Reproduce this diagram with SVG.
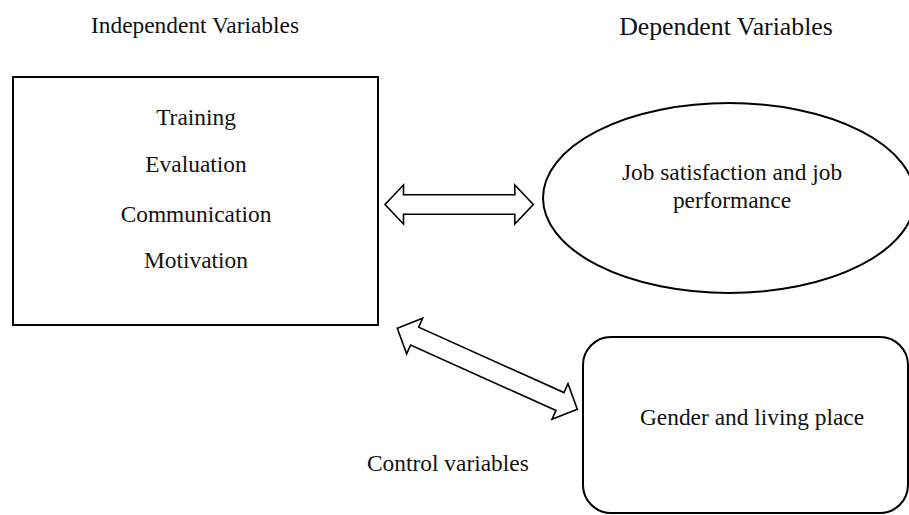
<svg xmlns="http://www.w3.org/2000/svg" width="909" height="515" viewBox="0 0 909 515">
<style>
text { font-family: "Liberation Serif", "Times New Roman", Times, serif; fill: #111; font-size: 23.4px; }
.shape { fill: #fff; stroke: #000; stroke-width: 2; }
.arrow { fill: #fff; stroke: #000; stroke-width: 1.6; stroke-linejoin: miter; }
</style>
<defs>
<polygon id="dblH" points="0,0 18.5,-19.5 18.5,-9.8 129.8,-9.8 129.8,-19.5 148.3,0 129.8,19.5 129.8,9.8 18.5,9.8 18.5,19.5"/>
<polygon id="dblD" points="0,0 19,-19.5 19,-9.8 178.4,-9.8 178.4,-19.5 197.4,0 178.4,19.5 178.4,9.8 19,9.8 19,19.5"/>
</defs>
<rect width="909" height="515" fill="#fff"/>
<text x="195" y="33" text-anchor="middle">Independent Variables</text>
<text x="726" y="35" text-anchor="middle" style="font-size:25.8px">Dependent Variables</text>
<g id="independent">
<rect class="shape" x="13" y="77" width="365" height="248"/>
<text x="196" y="125" text-anchor="middle">Training</text>
<text x="196" y="172" text-anchor="middle">Evaluation</text>
<text x="196" y="222" text-anchor="middle">Communication</text>
<text x="196" y="268" text-anchor="middle">Motivation</text>
</g>
<g id="dependent">
<ellipse class="shape" cx="729" cy="198" rx="186" ry="95"/>
<text x="732" y="180" text-anchor="middle">Job satisfaction and job</text>
<text x="732" y="208" text-anchor="middle">performance</text>
</g>
<g id="control">
<rect class="shape" x="583" y="337" width="325" height="176" rx="28"/>
<text x="752" y="425" text-anchor="middle">Gender and living place</text>
</g>
<text x="367" y="471">Control variables</text>
<g id="connectors">
<use href="#dblH" class="arrow" transform="translate(385,204.5)"/>
<use href="#dblD" class="arrow" transform="translate(397.3,328.3) rotate(24.23)"/>
</g>
</svg>
